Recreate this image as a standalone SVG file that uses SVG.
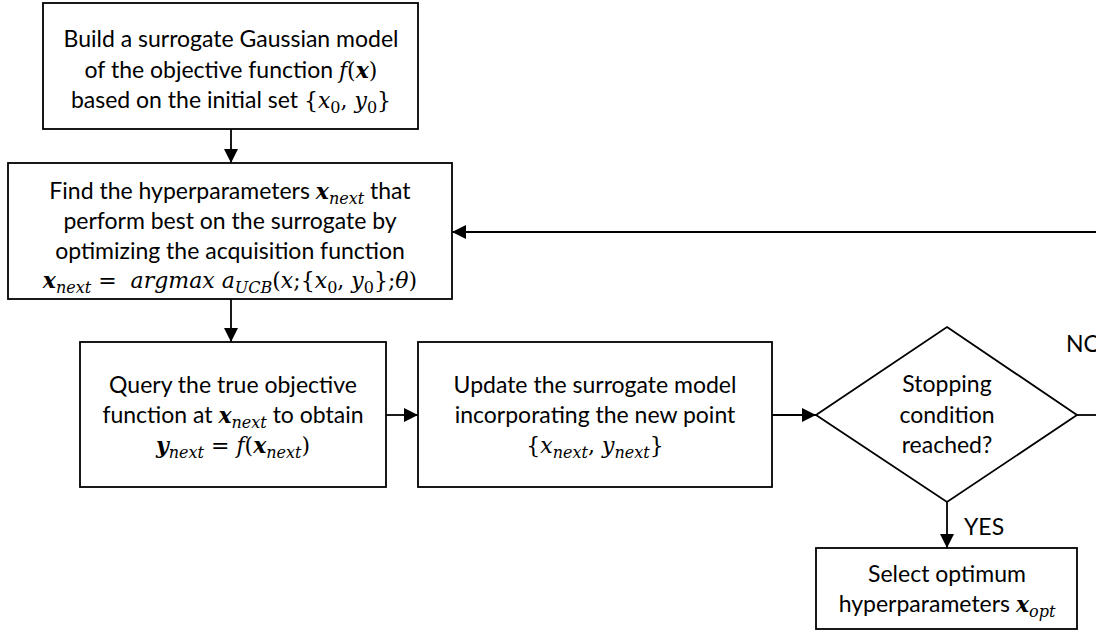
<svg xmlns="http://www.w3.org/2000/svg" width="1096" height="632" viewBox="0 0 1096 632">
  <defs>
    <style>
      .box { fill: #fff; stroke: #000; stroke-width: 1.8; }
      .edge { fill: none; stroke: #000; stroke-width: 1.8; }
      .t { font-family: Lato, "Liberation Sans", sans-serif; font-size: 23px; fill: #000; text-anchor: middle; }
      .lbl { font-family: Lato, "Liberation Sans", sans-serif; font-size: 23px; fill: #000; }
      .m { font-family: "DejaVu Serif", "Liberation Serif", serif; font-style: italic; font-size: 22px; }
      .mb { font-family: "DejaVu Serif", "Liberation Serif", serif; font-style: italic; font-weight: bold; font-size: 22px; }
      .mu { font-family: "DejaVu Serif", "Liberation Serif", serif; font-style: normal; font-size: 22px; }
      .sub { font-family: "DejaVu Serif", "Liberation Serif", serif; font-style: italic; font-size: 16px; }
      .subu { font-family: "DejaVu Serif", "Liberation Serif", serif; font-style: normal; font-size: 16px; }
    </style>
    <marker id="arrow" viewBox="0 0 14 14" refX="14" refY="7" markerWidth="14" markerHeight="14" markerUnits="userSpaceOnUse" orient="auto">
      <path d="M0,0 L14,7 L0,14 Z" fill="#000"/>
    </marker>
  </defs>

  <!-- connectors -->
  <g id="connectors">
    <line class="edge" x1="231" y1="129" x2="231" y2="163" marker-end="url(#arrow)"/>
    <line class="edge" x1="231" y1="299" x2="231" y2="342" marker-end="url(#arrow)"/>
    <line class="edge" x1="386" y1="415" x2="418" y2="415" marker-end="url(#arrow)"/>
    <line class="edge" x1="772" y1="415" x2="816" y2="415" marker-end="url(#arrow)"/>
    <line class="edge" x1="947" y1="502" x2="947" y2="548" marker-end="url(#arrow)"/>
    <polyline class="edge" points="1077,415 1100,415"/>
    <line class="edge" x1="1100" y1="232" x2="452" y2="232" marker-end="url(#arrow)"/>
    <text class="lbl" x="1066" y="352">NO</text>
    <text class="lbl" x="964" y="535">YES</text>
  </g>

  <!-- initial surrogate model -->
  <g id="build-model">
    <rect class="box" x="43" y="3" width="375" height="126"/>
    <text class="t" x="231" y="47">Build a surrogate Gaussian model</text>
    <text class="t" x="231" y="78">of the objective function <tspan class="m">f</tspan><tspan class="mu">(</tspan><tspan class="mb">x</tspan><tspan class="mu">)</tspan></text>
    <text class="t" x="231" y="108">based on the initial set <tspan class="mu">{</tspan><tspan class="m">x</tspan><tspan class="subu" dy="5">0</tspan><tspan class="mu" dy="-5">, </tspan><tspan class="m">y</tspan><tspan class="subu" dy="5">0</tspan><tspan class="mu" dy="-5">}</tspan></text>
  </g>

  <!-- acquisition step -->
  <g id="find-hyperparameters">
    <rect class="box" x="8" y="163" width="444" height="136"/>
    <text class="t" x="230" y="199">Find the hyperparameters <tspan class="mb">x</tspan><tspan class="sub" dy="5">next</tspan><tspan dy="-5"> that</tspan></text>
    <text class="t" x="230" y="229">perform best on the surrogate by</text>
    <text class="t" x="230" y="259">optimizing the acquisition function</text>
    <text class="t" x="230" y="288" xml:space="preserve"><tspan class="mb">x</tspan><tspan class="sub" dy="5">next</tspan><tspan class="mu" dy="-5"> =  </tspan><tspan class="m">argmax a</tspan><tspan class="sub" dy="5">UCB</tspan><tspan class="mu" dy="-5">(</tspan><tspan class="m">x</tspan><tspan class="mu">;{</tspan><tspan class="m">x</tspan><tspan class="subu" dy="5">0</tspan><tspan class="mu" dy="-5">, </tspan><tspan class="m">y</tspan><tspan class="subu" dy="5">0</tspan><tspan class="mu" dy="-5">};</tspan><tspan class="m">θ</tspan><tspan class="mu">)</tspan></text>
  </g>

  <!-- evaluate true objective -->
  <g id="query-objective">
    <rect class="box" x="80" y="342" width="306" height="145"/>
    <text class="t" x="233" y="393">Query the true objective</text>
    <text class="t" x="233" y="423">function at <tspan class="mb">x</tspan><tspan class="sub" dy="5">next</tspan><tspan dy="-5"> to obtain</tspan></text>
    <text class="t" x="233" y="453" xml:space="preserve"><tspan class="mb">y</tspan><tspan class="sub" dy="5">next</tspan><tspan class="mu" dy="-5"> = </tspan><tspan class="m">f</tspan><tspan class="mu">(</tspan><tspan class="mb">x</tspan><tspan class="sub" dy="5">next</tspan><tspan class="mu" dy="-5">)</tspan></text>
  </g>

  <!-- model update -->
  <g id="update-model">
    <rect class="box" x="418" y="342" width="354" height="145"/>
    <text class="t" x="595" y="393">Update the surrogate model</text>
    <text class="t" x="595" y="423">incorporating the new point</text>
    <text class="t" x="595" y="453"><tspan class="mu">{</tspan><tspan class="m">x</tspan><tspan class="sub" dy="5">next</tspan><tspan class="mu" dy="-5">, </tspan><tspan class="m">y</tspan><tspan class="sub" dy="5">next</tspan><tspan class="mu" dy="-5">}</tspan></text>
  </g>

  <!-- stopping decision -->
  <g id="stopping-condition">
    <polygon class="box" points="947,327 1077,415 947,502 816,415"/>
    <text class="t" x="947" y="392">Stopping</text>
    <text class="t" x="947" y="423">condition</text>
    <text class="t" x="947" y="453">reached?</text>
  </g>

  <!-- final selection -->
  <g id="select-optimum">
    <rect class="box" x="816" y="548" width="261" height="81"/>
    <text class="t" x="947" y="582">Select optimum</text>
    <text class="t" x="947" y="612">hyperparameters <tspan class="mb">x</tspan><tspan class="sub" dy="5">opt</tspan></text>
  </g>
</svg>
